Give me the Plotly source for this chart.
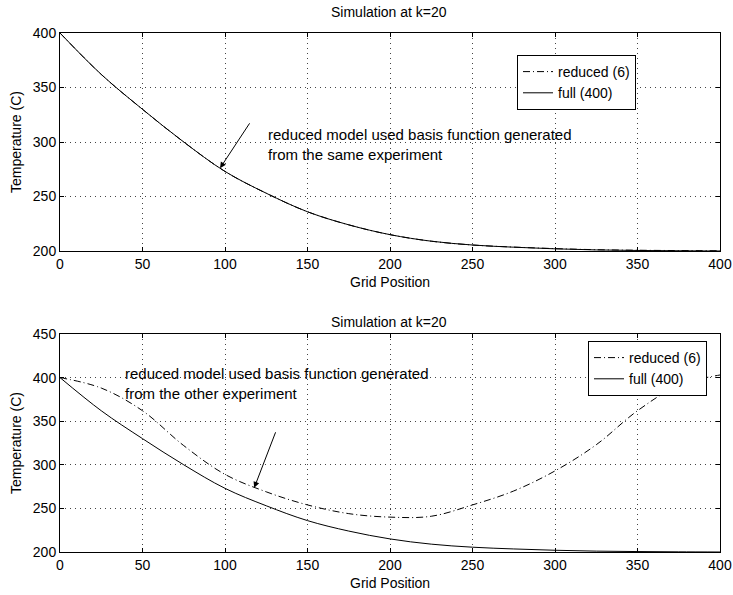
import plotly.graph_objects as go

# ---- data ----
grid_x = [0, 25, 50, 75, 100, 125, 150, 175, 200, 225, 250, 275, 300, 325, 350, 375, 400]
full_400 = [400, 362, 330, 300, 273, 253, 236, 224, 215, 209, 205.5, 203.5, 202, 201, 200.5, 200.2, 200]
reduced_same = [400, 362, 330, 300, 273, 253, 236, 224, 215, 209, 205.5, 203.6, 202.2, 201.2, 200.7, 200.4, 200.2]
reduced_other = [400, 388, 362, 322, 289, 269, 254, 244, 240, 241, 254, 270, 293, 323, 362, 391, 403]

x_ticks = [0, 50, 100, 150, 200, 250, 300, 350, 400]
y_ticks_top = [200, 250, 300, 350, 400]
y_ticks_bot = [200, 250, 300, 350, 400, 450]

title_text = "Simulation at k=20"
xlabel = "Grid Position"
ylabel = "Temperature (C)"
note_top = "reduced model used basis function generated<br>from the same experiment"
note_bot = "reduced model used basis function generated<br>from the other experiment"

FONT = "Liberation Sans, Arial, Helvetica, sans-serif"
FS = 14
dashdot = "7px,3px,1px,3px"

fig = go.Figure()
fig.add_trace(go.Scatter(x=grid_x, y=reduced_same, mode="lines", name="reduced (6)",
                         line=dict(color="black", width=1, dash=dashdot, shape="spline"),
                         xaxis="x", yaxis="y", legend="legend"))
fig.add_trace(go.Scatter(x=grid_x, y=full_400, mode="lines", name="full (400)",
                         line=dict(color="black", width=1, shape="spline"),
                         xaxis="x", yaxis="y", legend="legend"))
fig.add_trace(go.Scatter(x=grid_x, y=reduced_other, mode="lines", name="reduced (6)",
                         line=dict(color="black", width=1, dash=dashdot, shape="spline"),
                         xaxis="x2", yaxis="y2", legend="legend2"))
fig.add_trace(go.Scatter(x=grid_x, y=full_400, mode="lines", name="full (400)",
                         line=dict(color="black", width=1, shape="spline"),
                         xaxis="x2", yaxis="y2", legend="legend2"))

W, H = 733, 595
xd = [60 / W, 720 / W]
yd_top = [1 - 251 / H, 1 - 33 / H]
yd_bot = [1 - 552 / H, 1 - 334 / H]

axis_common = dict(showline=True, mirror="ticks", linecolor="black", linewidth=1,
                   ticks="inside", ticklen=4, tickcolor="black",
                   showgrid=True, gridcolor="#444444", griddash="1px,4px", gridwidth=1,
                   zeroline=False, tickfont=dict(family=FONT, size=FS, color="black"))

fig.update_layout(
    width=W, height=H, margin=dict(l=0, r=0, t=0, b=0, autoexpand=False),
    paper_bgcolor="white", plot_bgcolor="white",
    font=dict(family=FONT, size=FS, color="black"),
    xaxis=dict(domain=xd, range=[0, 400], tickvals=x_ticks, anchor="y", **axis_common),
    yaxis=dict(domain=yd_top, range=[200, 400], tickvals=y_ticks_top, anchor="x", **axis_common),
    xaxis2=dict(domain=xd, range=[0, 400], tickvals=x_ticks, anchor="y2", **axis_common),
    yaxis2=dict(domain=yd_bot, range=[200, 450], tickvals=y_ticks_bot, anchor="x2", **axis_common),
    legend=dict(x=517 / W, y=1 - 55 / H, xanchor="left", yanchor="top",
                bordercolor="black", borderwidth=1, bgcolor="white",
                font=dict(family=FONT, size=14), tracegroupgap=0),
    legend2=dict(x=588 / W, y=1 - 341 / H, xanchor="left", yanchor="top",
                 bordercolor="black", borderwidth=1, bgcolor="white",
                 font=dict(family=FONT, size=14), tracegroupgap=0),
)

ann = []
# titles and axis labels
for ytitle, yxl, ymid in [(12, 282, (33 + 251) / 2), (322, 583, (334 + 552) / 2)]:
    ann.append(dict(xref="paper", yref="paper", x=389 / W, y=1 - ytitle / H, text=title_text,
                    showarrow=False, font=dict(family=FONT, size=14), xanchor="center", yanchor="middle"))
    ann.append(dict(xref="paper", yref="paper", x=390 / W, y=1 - yxl / H, text=xlabel,
                    showarrow=False, font=dict(family=FONT, size=FS), xanchor="center", yanchor="middle"))
    ann.append(dict(xref="paper", yref="paper", x=16 / W, y=1 - ymid / H, text=ylabel, textangle=-90,
                    showarrow=False, font=dict(family=FONT, size=FS), xanchor="center", yanchor="middle"))

# notes
ann.append(dict(xref="x", yref="y", x=125, y=298, text=note_top, align="left", showarrow=False,
                xanchor="left", yanchor="middle", font=dict(family=FONT, size=15)))
ann.append(dict(xref="x2", yref="y2", x=38, y=393, text=note_bot, align="left", showarrow=False,
                xanchor="left", yanchor="middle", font=dict(family=FONT, size=15)))
# arrows
ann.append(dict(xref="x", yref="y", x=97, y=276, ax=115.5, ay=318.5, axref="x", ayref="y",
                text="", showarrow=True, arrowhead=2, arrowsize=1.2, arrowwidth=1, arrowcolor="black"))
ann.append(dict(xref="x2", yref="y2", x=117.7, y=273.6, ax=131, ay=339, axref="x2", ayref="y2",
                text="", showarrow=True, arrowhead=2, arrowsize=1.2, arrowwidth=1, arrowcolor="black"))

fig.update_layout(annotations=ann)
fig.write_html("out.html")
